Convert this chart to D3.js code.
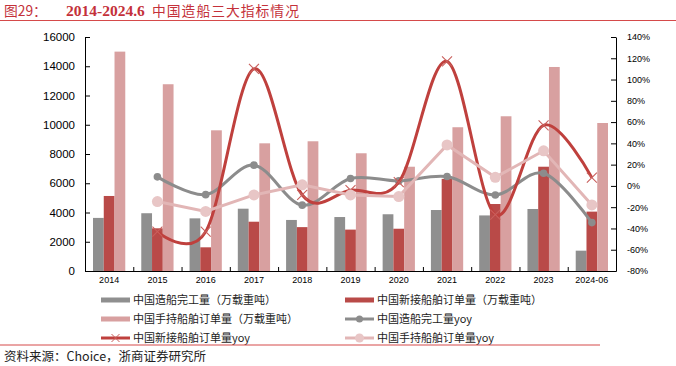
<!DOCTYPE html>
<html><head><meta charset="utf-8">
<script src="https://cdn.jsdelivr.net/npm/d3@7"></script>
<style>body{margin:0;background:#fff} svg{display:block}</style>
</head><body>
<svg id="c" width="676" height="366"></svg>
<script>
const categories = ["2014","2015","2016","2017","2018","2019","2020","2021","2022","2023","2024-06"];
const completed  = [3630, 3950, 3600, 4260, 3490, 3690, 3880, 4170, 3800, 4240, 1390];
const newOrders  = [5130, 2920, 1620, 3370, 3000, 2830, 2890, 6300, 4580, 7130, 4060];
const orderBook  = [15000, 12770, 9620, 8730, 8870, 8050, 7130, 9830, 10580, 13950, 10120];
const completedYoy = [null, 8.5, -8.2, 19.5, -18.1, 6.9, 4.7, 8.8, -8.5, 11.9, -34.5];
const newOrdersYoy = [null, -43, -43, 110, -8.5, -4, 3.5, 117, -27, 57, 7.8];
const orderBookYoy = [null, -14.7, -24, -8.5, 1, -8.5, -10, 38.5, 8.1, 33, -17.9];
const leftTicks = [0,2000,4000,6000,8000,10000,12000,14000,16000];
const rightTicks = [-80,-60,-40,-20,0,20,40,60,80,100,120,140];
const legendNames = ["中国造船完工量（万载重吨）","中国新接船舶订单量（万载重吨）","中国手持船舶订单量（万载重吨）","中国造船完工量yoy","中国新接船舶订单量yoy","中国手持船舶订单量yoy"];
const titleLabel = "图29：";
const titleYears = "2014-2024.6";
const titleText = "中国造船三大指标情况";
const sourceText = "资料来源：Choice，浙商证券研究所";

const C = {grey:"#8f8f8f", red:"#b94a48", pink:"#d8a0a0", greyLine:"#8c8c8c", redLine:"#bf403d", redMark:"#c95f5c", pinkLine:"#e2b6b6", pinkDot:"#e8c6c6", title:"#c4313a"};
const svg = d3.select("#c");
const L=85, R=616, T=37, B=271;
const x = d3.scaleBand().domain(categories).range([L,R]).padding(0);
const xs = d3.scaleBand().domain(["c","n","o"]).range([8, x.bandwidth()-8]).padding(0);
const yL = d3.scaleLinear().domain([0,16000]).range([B,T]);
const yR = d3.scaleLinear().domain([-80,140]).range([B,T]);
const cx = c => x(c) + x.bandwidth()/2;

// title
const tt = svg.append("text").attr("y",16).attr("fill",C.title);
tt.append("tspan").attr("x",4).attr("font-family","'Noto Sans CJK SC'").attr("font-size",13.8).text(titleLabel);
tt.append("tspan").attr("x",66).attr("font-family","'Liberation Serif'").attr("font-weight","bold").attr("font-size",15.5).text(titleYears);
tt.append("tspan").attr("x",152).attr("font-family","'Noto Sans CJK SC'").attr("font-size",13.8).attr("letter-spacing",1).text(titleText);
svg.append("line").attr("x1",0).attr("x2",676).attr("y1",20.5).attr("y2",20.5).attr("stroke","#d54a4a").attr("stroke-width",1.2);

// bars
const barSeries = [{k:"c",vals:completed,col:C.grey},{k:"n",vals:newOrders,col:C.red},{k:"o",vals:orderBook,col:C.pink}];
barSeries.forEach(s=>{
  svg.append("g").selectAll("rect").data(categories.map((c,i)=>({c,v:s.vals[i]}))).join("rect")
    .attr("x",d=>x(d.c)+xs(s.k)).attr("width",xs.bandwidth())
    .attr("y",d=>yL(d.v)).attr("height",d=>yL(0)-yL(d.v)).attr("fill",s.col);
});

// axes
const gl = svg.append("g").attr("transform",`translate(${L},0)`)
  .call(d3.axisLeft(yL).tickValues(leftTicks).tickSize(-5).tickSizeOuter(0).tickPadding(10).tickFormat(d3.format("d")));
gl.selectAll("text").attr("font-family","'Liberation Sans',Arial").attr("font-size",11.5).attr("fill","#000");
const gr = svg.append("g").attr("transform",`translate(${R},0)`)
  .call(d3.axisRight(yR).tickValues(rightTicks).tickSize(-5).tickSizeOuter(0).tickPadding(11).tickFormat(d=>d+"%"));
gr.selectAll("text").attr("font-family","'Liberation Sans',Arial").attr("font-size",9).attr("fill","#000");
const gx = svg.append("g").attr("transform",`translate(0,${B})`)
  .call(d3.axisBottom(x).tickSize(0).tickSizeOuter(0).tickPadding(6));
gx.selectAll("text").attr("font-family","'Liberation Sans',Arial").attr("font-size",9).attr("fill","#000");
const xb = d3.scaleLinear().domain([0,categories.length]).range([L,R]);
const gxb = svg.append("g").attr("transform",`translate(0,${B})`)
  .call(d3.axisBottom(xb).tickValues(d3.range(0,categories.length+1)).tickSize(-4).tickFormat(""));
gxb.select(".domain").remove();
svg.selectAll(".domain, .tick line").attr("stroke","#000");

// lines
const smooth = d3.line().x(d=>cx(d.c)).y(d=>yR(d.v)).curve(d3.curveCardinal.tension(0));
const straight = d3.line().x(d=>cx(d.c)).y(d=>yR(d.v));
const pts = arr => categories.map((c,i)=>({c,v:arr[i]})).filter(d=>d.v!=null);

svg.append("path").attr("d",smooth(pts(completedYoy))).attr("fill","none").attr("stroke",C.greyLine).attr("stroke-width",3);
svg.append("g").selectAll("circle").data(pts(completedYoy)).join("circle")
  .attr("cx",d=>cx(d.c)).attr("cy",d=>yR(d.v)).attr("r",3.8).attr("fill",C.greyLine);

svg.append("path").attr("d",smooth(pts(newOrdersYoy))).attr("fill","none").attr("stroke",C.redLine).attr("stroke-width",3);
const s=5;
svg.append("g").selectAll("path").data(pts(newOrdersYoy)).join("path")
  .attr("d",d=>{const px=cx(d.c),py=yR(d.v);return `M${px-s},${py-s}L${px+s},${py+s}M${px-s},${py+s}L${px+s},${py-s}`;})
  .attr("stroke",C.redMark).attr("stroke-width",1.1).attr("fill","none");

svg.append("path").attr("d",straight(pts(orderBookYoy))).attr("fill","none").attr("stroke",C.pinkLine).attr("stroke-width",3);
svg.append("g").selectAll("circle").data(pts(orderBookYoy)).join("circle")
  .attr("cx",d=>cx(d.c)).attr("cy",d=>yR(d.v)).attr("r",5.5).attr("fill",C.pinkDot);

// legend
const leg = [
  {n:legendNames[0],type:"bar",col:C.grey,x:101,y:300},
  {n:legendNames[1],type:"bar",col:C.red,x:345,y:300},
  {n:legendNames[2],type:"bar",col:C.pink,x:101,y:319},
  {n:legendNames[3],type:"grey",col:C.greyLine,x:345,y:319},
  {n:legendNames[4],type:"red",col:C.redLine,x:101,y:338},
  {n:legendNames[5],type:"pink",col:C.pinkLine,x:345,y:338}
];
const lg = svg.append("g");
leg.forEach(d=>{
  const g = lg.append("g");
  if(d.type==="bar"){
    g.append("rect").attr("x",d.x).attr("y",d.y-2.5).attr("width",29).attr("height",5).attr("fill",d.col);
  } else {
    g.append("line").attr("x1",d.x).attr("x2",d.x+29).attr("y1",d.y).attr("y2",d.y).attr("stroke",d.col).attr("stroke-width",3);
    const m = d.x+14.5;
    if(d.type==="grey") g.append("circle").attr("cx",m).attr("cy",d.y).attr("r",3.5).attr("fill",C.greyLine);
    if(d.type==="pink") g.append("circle").attr("cx",m).attr("cy",d.y).attr("r",4.5).attr("fill",C.pinkDot);
    if(d.type==="red") g.append("path").attr("d",`M${m-4},${d.y-4}L${m+4},${d.y+4}M${m-4},${d.y+4}L${m+4},${d.y-4}`).attr("stroke",C.redMark).attr("stroke-width",1);
  }
  g.append("text").attr("x",d.x+32).attr("y",d.y).attr("dy","0.35em").attr("font-family","'Noto Sans CJK SC'").attr("font-size",11).attr("fill","#222").text(d.n);
});

svg.append("line").attr("x1",0).attr("x2",600).attr("y1",345).attr("y2",345).attr("stroke","#d54a4a").attr("stroke-width",1);
svg.append("text").attr("x",4).attr("y",357).attr("dy","0.35em").attr("font-family","'Noto Sans CJK SC'").attr("font-size",12.5).attr("fill","#222").text(sourceText);
</script>
</body></html>
